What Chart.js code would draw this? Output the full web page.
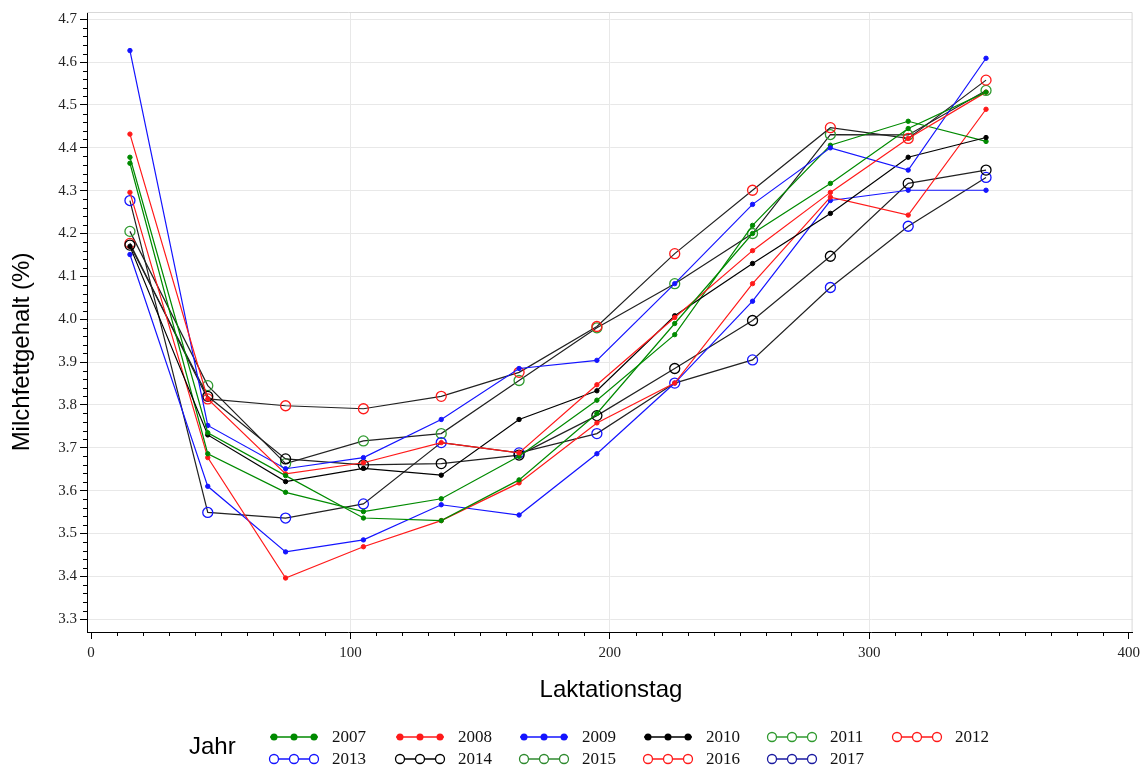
<!DOCTYPE html>
<html>
<head>
<meta charset="utf-8">
<script src="https://cdn.jsdelivr.net/npm/chart.js@4.4.0/dist/chart.umd.min.js"></script>
<style>
  html, body { margin: 0; padding: 0; background: #fff; }
</style>
</head>
<body>
<canvas id="chart" width="1145" height="767"></canvas>
<script>
// Laktationstag (x positions)
const days = [15, 45, 75, 105, 135, 165, 195, 225, 255, 285, 315, 345];

// Milchfettgehalt per year
const fett2007 = [4.378, 3.735, 3.635, 3.536, 3.530, 3.625, 3.780, 3.990, 4.200, 4.317, 4.445, 4.530];
const fett2008 = [4.432, 3.814, 3.639, 3.665, 3.712, 3.688, 3.847, 4.004, 4.160, 4.296, 4.422, 4.530];
const fett2009 = [4.627, 3.752, 3.651, 3.677, 3.766, 3.885, 3.904, 4.083, 4.268, 4.400, 4.348, 4.609];
const fett2010 = [4.170, 3.730, 3.621, 3.652, 3.636, 3.766, 3.833, 4.008, 4.130, 4.247, 4.378, 4.424];
const fett2011 = [4.364, 3.686, 3.596, 3.551, 3.581, 3.680, 3.811, 3.964, 4.219, 4.406, 4.462, 4.415];
const fett2012 = [4.296, 3.677, 3.396, 3.469, 3.530, 3.618, 3.758, 3.851, 4.083, 4.285, 4.243, 4.490];
const fett2013 = [4.151, 3.610, 3.457, 3.485, 3.567, 3.543, 3.686, 3.851, 4.042, 4.277, 4.301, 4.301];
const fett2014 = [4.173, 3.820, 3.674, 3.660, 3.663, 3.683, 3.775, 3.885, 3.997, 4.147, 4.317, 4.348];
const fett2015 = [4.205, 3.845, 3.663, 3.716, 3.733, 3.857, 3.980, 4.083, 4.200, 4.431, 4.430, 4.534];
const fett2016 = [4.177, 3.814, 3.798, 3.791, 3.820, 3.876, 3.983, 4.153, 4.301, 4.447, 4.422, 4.558];
const fett2017 = [4.277, 3.549, 3.536, 3.569, 3.712, 3.688, 3.733, 3.851, 3.905, 4.074, 4.217, 4.331];

const years = ['2007', '2008', '2009', '2010', '2011', '2012', '2013', '2014', '2015', '2016', '2017'];
const values = [fett2007, fett2008, fett2009, fett2010, fett2011, fett2012, fett2013, fett2014, fett2015, fett2016, fett2017];

// tick labels
const xTicks = [0, 100, 200, 300, 400];
const yTicks = [3.3, 3.4, 3.5, 3.6, 3.7, 3.8, 3.9, 4.0, 4.1, 4.2, 4.3, 4.4, 4.5, 4.6, 4.7];

// styles as they appear in the plot area
const GREEN = '#008a00', RED = '#ff1a1a', BLUE = '#1414ff', BLACK = '#000000';
const markerColors = [GREEN, RED, BLUE, BLACK, GREEN, RED, BLUE, BLACK, '#2f9a2f', RED, BLUE];
const lineColors = [GREEN, RED, BLUE, BLACK, GREEN, RED, BLUE, '#222', '#222', '#222', '#222'];
const openMarker = [false, false, false, false, false, false, false, true, true, true, true];
// red circles drawn above the green ones
const drawOrder = [0, 0, 0, 0, 0, 0, 0, 0, 2, 1, 0];

// styles as they appear in the legend
const legendColors = [GREEN, RED, BLUE, BLACK, '#2f9a2f', RED, BLUE, BLACK, '#2f8a2f', RED, '#1a1aa0'];
const legendOpen = [false, false, false, false, true, true, true, true, true, true, true];

const datasets = years.map((yr, i) => ({
  label: yr,
  data: days.map((d, k) => ({ x: d, y: values[i][k] })),
  order: drawOrder[i],
  borderColor: lineColors[i],
  borderWidth: 1.2,
  pointRadius: openMarker[i] ? 5 : 2.2,
  pointBorderWidth: openMarker[i] ? 1.3 : 1,
  pointBorderColor: markerColors[i],
  pointBackgroundColor: openMarker[i] ? 'rgba(0,0,0,0)' : markerColors[i],
  tension: 0,
  fill: false
}));

const extras = {
  id: 'extras',
  afterDraw(chart) {
    const ctx = chart.ctx;
    const xs = chart.scales.x, ys = chart.scales.y;
    const area = chart.chartArea;
    ctx.save();

    // light frame top / right
    ctx.strokeStyle = '#d8d8d8';
    ctx.lineWidth = 1;
    ctx.beginPath();
    ctx.moveTo(area.left, area.top + 0.5);
    ctx.lineTo(area.right - 0.5, area.top + 0.5);
    ctx.lineTo(area.right - 0.5, area.bottom);
    ctx.stroke();

    // minor ticks
    ctx.strokeStyle = '#000';
    ctx.beginPath();
    for (let v = 0; v <= 400; v += 10) {
      if (v % 100 === 0) continue;
      const px = Math.round(xs.getPixelForValue(v)) + 0.5;
      ctx.moveTo(px, area.bottom);
      ctx.lineTo(px, area.bottom + 4);
    }
    for (let k = 0; k <= 70; k++) {
      if (k % 5 === 0) continue;
      const v = 3.3 + k * 0.02;
      const py = Math.round(ys.getPixelForValue(v)) + 0.5;
      ctx.moveTo(area.left, py);
      ctx.lineTo(area.left - 4, py);
    }
    ctx.stroke();

    // axis titles
    ctx.fillStyle = '#000';
    ctx.font = '24px "Liberation Sans", Arial, sans-serif';
    ctx.textAlign = 'center';
    ctx.textBaseline = 'middle';
    ctx.fillText('Laktationstag', 611, 690);
    ctx.save();
    ctx.translate(22, 352);
    ctx.rotate(-Math.PI / 2);
    ctx.fillText('Milchfettgehalt (%)', 0, 0);
    ctx.restore();

    // legend
    ctx.textAlign = 'left';
    ctx.fillText('Jahr', 189, 747);
    const cols = [270, 396, 520, 644, 768, 893];
    const rows = [737, 759];
    ctx.font = '17px "Liberation Serif", "Times New Roman", serif';
    years.forEach((yr, i) => {
      const x0 = cols[i % 6];
      const y0 = rows[Math.floor(i / 6)];
      const c = legendColors[i];
      ctx.strokeStyle = c;
      ctx.lineWidth = 1.3;
      ctx.beginPath();
      ctx.moveTo(x0, y0);
      ctx.lineTo(x0 + 48, y0);
      ctx.stroke();
      [x0 + 4, x0 + 24, x0 + 44].forEach(mx => {
        ctx.beginPath();
        if (legendOpen[i]) {
          ctx.arc(mx, y0, 4.5, 0, Math.PI * 2);
          ctx.fillStyle = '#fff';
          ctx.fill();
          ctx.stroke();
        } else {
          ctx.arc(mx, y0, 3.5, 0, Math.PI * 2);
          ctx.fillStyle = c;
          ctx.fill();
        }
      });
      ctx.fillStyle = '#111';
      ctx.fillText(yr, x0 + 62, y0 + 1);
    });
    ctx.restore();
  }
};

new Chart(document.getElementById('chart').getContext('2d'), {
  type: 'line',
  data: { datasets: datasets },
  options: {
    responsive: false,
    animation: false,
    devicePixelRatio: 1,
    layout: { padding: { left: 0, top: 12, right: 9, bottom: 0 } },
    plugins: {
      legend: { display: false },
      tooltip: { enabled: false }
    },
    scales: {
      x: {
        type: 'linear',
        min: -1.55,
        max: 401.5,
        afterBuildTicks: s => { s.ticks = xTicks.map(v => ({ value: v })); },
        afterFit: s => { s.height = 135; },
        grid: {
          color: ctx => (ctx.tick && ctx.tick.value > 0 && ctx.tick.value < 400) ? '#e8e8e8' : 'rgba(0,0,0,0)',
          tickColor: '#000',
          tickLength: 7
        },
        border: { color: '#000', width: 1 },
        ticks: {
          padding: 5,
          color: '#222',
          font: { family: '"Liberation Serif", "Times New Roman", serif', size: 15 },
          callback: v => String(v)
        }
      },
      y: {
        type: 'linear',
        min: 3.27,
        max: 4.717,
        afterBuildTicks: s => { s.ticks = yTicks.map(v => ({ value: v })); },
        afterFit: s => { s.width = 87; },
        grid: {
          color: '#e8e8e8',
          tickColor: '#000',
          tickLength: 7
        },
        border: { color: '#000', width: 1 },
        ticks: {
          padding: 3,
          color: '#222',
          font: { family: '"Liberation Serif", "Times New Roman", serif', size: 15 },
          callback: v => Number(v).toFixed(1)
        }
      }
    }
  },
  plugins: [extras]
});
</script>
</body>
</html>
